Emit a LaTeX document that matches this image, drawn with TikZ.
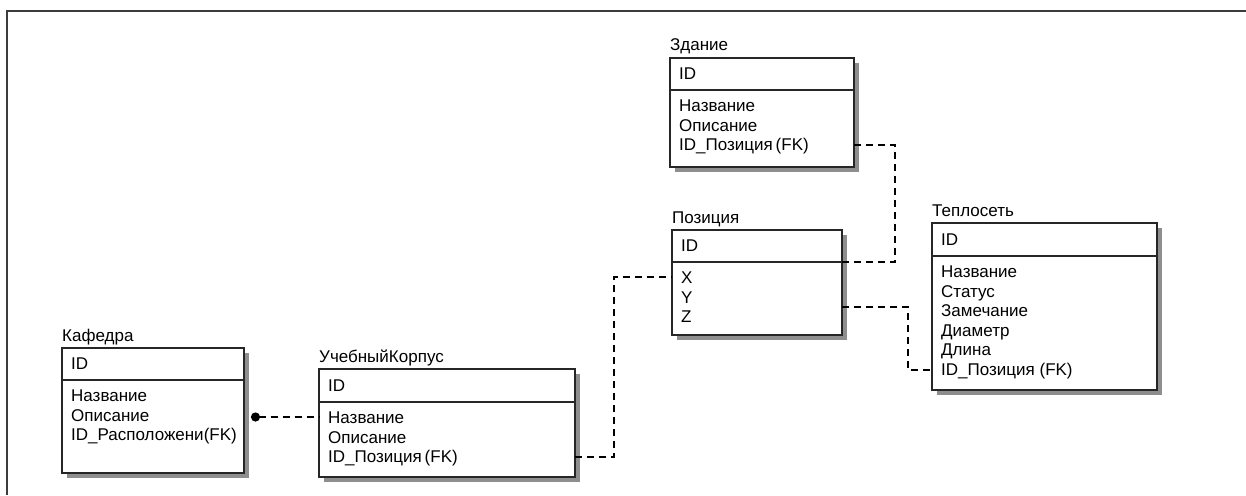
\documentclass[tikz,border=0pt]{standalone}
\usepackage{fontspec}
\setmainfont{Liberation Sans}
\usetikzlibrary{arrows.meta,positioning,shadows}
\definecolor{frame}{HTML}{3C3C3C}
\definecolor{shade}{HTML}{8E8E8E}

\begin{document}
\begin{tikzpicture}[
  x=1pt,y=-1pt,
  font=\fontsize{17}{19.5}\selectfont,
  tbl/.style={draw=black!85,line width=1.3pt,fill=white,anchor=north west,inner sep=0pt,outer sep=0pt,
    drop shadow={shadow xshift=5pt,shadow yshift=-5pt,opacity=1,fill=shade}},
  kbox/.style={tbl,minimum height=32pt},
  abox/.style={tbl},
  ttl/.style={anchor=base west,inner sep=0pt},
  pk/.style={anchor=west,inner sep=0pt},
  attrs/.style={anchor=north west,align=left,inner sep=0pt},
  rel/.style={line width=2.6pt,dash pattern=on 7pt off 5pt}
]
\useasboundingbox (0,0) rectangle (1246,495);
\draw[frame,line width=1.6pt] (7,495) -- (7,11) -- (1246,11);

% Кафедра
\node[kbox,minimum width=182pt] (kaf-key) at (62,348) {};
\node[abox,minimum width=182pt,minimum height=93pt] (kaf-attr) at (kaf-key.south west) {};
\node[ttl] (kaf) at ([yshift=7pt]kaf-key.north west) {Кафедра};
\node[pk] (kaf-id) at ([xshift=9pt]kaf-key.west) {ID};
\node[attrs] (kaf-list) at ([shift={(9pt,-10pt)}]kaf-attr.north west)
  {Название\\Описание\\ID\_Расположени(FK)};

% УчебныйКорпус
\node[kbox,minimum width=256pt,minimum height=33pt] (uk-key) at (319,369) {};
\node[abox,minimum width=256pt,minimum height=75pt] (uk-attr) at (uk-key.south west) {};
\node[ttl] (uk) at ([yshift=7pt]uk-key.north west) {УчебныйКорпус};
\node[pk] (uk-id) at ([xshift=9pt]uk-key.west) {ID};
\node[attrs] (uk-list) at ([shift={(9pt,-10pt)}]uk-attr.north west)
  {Название\\Описание\\ID\_Позиция\,(FK)};

% Здание
\node[kbox,minimum width=184pt] (zd-key) at (670,58) {};
\node[abox,minimum width=184pt,minimum height=77pt] (zd-attr) at (zd-key.south west) {};
\node[ttl] (zd) at ([yshift=7pt]zd-key.north west) {Здание};
\node[pk] (zd-id) at ([xshift=9pt]zd-key.west) {ID};
\node[attrs] (zd-list) at ([shift={(9pt,-10pt)}]zd-attr.north west)
  {Название\\Описание\\ID\_Позиция\,(FK)};

% Позиция
\node[kbox,minimum width=170pt] (poz-key) at (672,230) {};
\node[abox,minimum width=170pt,minimum height=73pt] (poz-attr) at (poz-key.south west) {};
\node[ttl] (poz) at ([yshift=7pt]poz-key.north west) {Позиция};
\node[pk] (poz-id) at ([xshift=9pt]poz-key.west) {ID};
\node[attrs] (poz-list) at ([shift={(9pt,-10pt)}]poz-attr.north west)
  {X\\Y\\Z};

% Теплосеть
\node[kbox,minimum width=225pt,minimum height=33pt] (ts-key) at (932,223) {};
\node[abox,minimum width=225pt,minimum height=134pt] (ts-attr) at (ts-key.south west) {};
\node[ttl] (ts) at ([yshift=7pt]ts-key.north west) {Теплосеть};
\node[pk] (ts-id) at ([xshift=9pt]ts-key.west) {ID};
\node[attrs] (ts-list) at ([shift={(9pt,-10pt)}]ts-attr.north west)
  {Название\\Статус\\Замечание\\Диаметр\\Длина\\ID\_Позиция (FK)};

% связи
\coordinate (kaf-fk) at ([yshift=-37pt]kaf-attr.north east);
\draw[rel,{Circle[length=9pt]}-,shorten <=7pt] (kaf-fk) -- (uk-attr.west |- kaf-fk);
\draw[rel] ([yshift=-55pt]uk-attr.north east) -- ++(39,0) |- ([yshift=-15pt]poz-attr.north west);
\draw[rel] ([yshift=-55pt]zd-attr.north east) -- ++(41,0) |- (poz-key.south east);
\draw[rel] ([yshift=-45pt]poz-attr.north east) -- ++(66,0) |- ([yshift=-114pt]ts-attr.north west);
\end{tikzpicture}
\end{document}
